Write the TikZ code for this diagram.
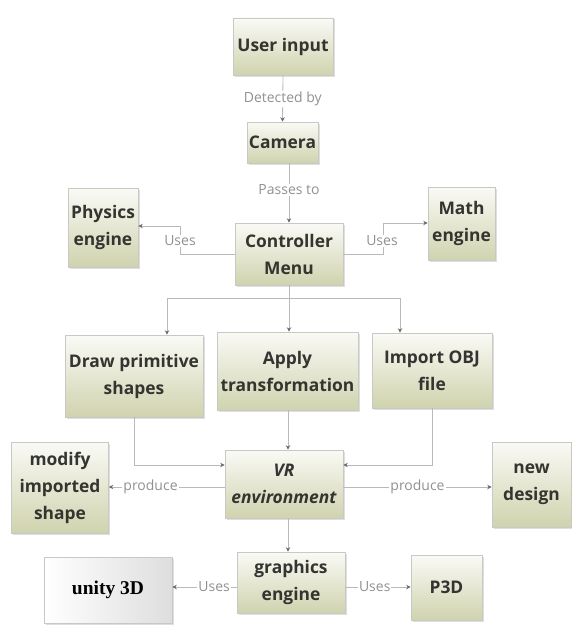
\documentclass[tikz,border=0pt]{standalone}
\usepackage{fontspec}
\setmainfont{Open Sans}
\newfontfamily\unityfont{Liberation Serif}
\usetikzlibrary{arrows.meta,shadows}
\definecolor{boxtop}{RGB}{250,250,246}
\definecolor{boxmid}{RGB}{238,239,226}
\definecolor{boxbot}{RGB}{208,211,174}
\definecolor{boxborder}{RGB}{200,200,196}
\definecolor{txtc}{RGB}{52,52,48}
\definecolor{linec}{RGB}{185,185,185}
\definecolor{arrowc}{RGB}{105,105,105}
\definecolor{lblc}{RGB}{145,145,145}
\tikzset{
  box/.style={draw=boxborder, line width=0.6pt, top color=boxtop, middle color=boxmid, bottom color=boxbot,
    text=txtc, font=\fontsize{17.4}{27}\selectfont\bfseries, align=center, inner sep=0pt,
    drop shadow={shadow xshift=1.5pt, shadow yshift=-1.5pt, opacity=0.25}},
  lbl/.style={fill=white, text=lblc, font=\fontsize{14}{16}\selectfont, inner sep=1pt},
  conn/.style={draw=linec, line width=0.8pt},
  arr/.style={conn, -{Stealth[length=4.5pt,width=4.5pt,color=arrowc]}},
}
\begin{document}
\begin{tikzpicture}[x=1pt,y=-1pt]
\useasboundingbox (0,0) rectangle (572,626);
% boxes
\node[box, minimum width=100pt, minimum height=57pt] (user) at (283,46.5) {User input};
\node[box, minimum width=71pt, minimum height=41pt] (cam) at (282.5,142.5) {Camera};
\node[box, minimum width=70pt, minimum height=79pt] (phys) at (103,227.5) {Physics\\engine};
\node[box, minimum width=108pt, minimum height=62pt] (ctrl) at (289,254) {Controller\\Menu};
\node[box, minimum width=67pt, minimum height=73pt] (math) at (461.5,223.5) {Math\\engine};
\node[box, minimum width=138pt, minimum height=82pt] (drawp) at (134,376) {Draw primitive\\shapes};
\node[box, minimum width=141pt, minimum height=78pt] (apply) at (287.5,371) {Apply\\transformation};
\node[box, minimum width=120pt, minimum height=75pt] (import) at (432,370.5) {Import OBJ\\file};
\node[box, minimum width=97pt, minimum height=91pt] (modify) at (60,487.5) {modify\\imported\\shape};
\node[box, minimum width=118pt, minimum height=68pt, font=\fontsize{17.4}{27}\selectfont\bfseries\itshape] (vr) at (284,484) {VR\\environment};
\node[box, minimum width=79pt, minimum height=85pt] (newd) at (531.5,484.5) {new\\design};
\node[box, minimum width=108pt, minimum height=61pt] (graph) at (291,582.5) {graphics\\engine};
\node[box, minimum width=128pt, minimum height=66pt, top color=white, middle color=white, bottom color=white,
  left color=white, right color=black!13, text=black, font=\fontsize{19.5}{22}\selectfont\unityfont\bfseries] (unity) at (108,590) {unity 3D};
\node[box, minimum width=71pt, minimum height=65pt] (p3d) at (446.5,587.5) {P3D};
% connectors
\draw[arr] (user.south) -- (cam.north) node[lbl, pos=0.5] {Detected by};
\draw[arr] (ctrl.north |- cam.south) -- (ctrl.north) node[lbl, pos=0.45] {Passes to};
\draw[arr] (ctrl.west) -- (180,254) -- (180,226) -- (phys.east |- 180,226);
\node[lbl] (u1) at (180,241) {Uses};
\draw[arr] (ctrl.east) -- (383,254) -- (383,223) -- (math.west |- 383,223);
\node[lbl] (u2) at (382,241) {Uses};
\coordinate (split) at (289,298);
\draw[conn] (ctrl.south) -- (split);
\draw[arr] (split) -- (167,298) -- (drawp.north -| 167,0);
\draw[arr] (split) -- (apply.north -| 289,0);
\draw[arr] (split) -- (400,298) -- (import.north -| 400,0);
\draw[arr] (drawp.south) |- (vr.west |- 0,465);
\draw[arr] (import.south) |- (vr.east |- 0,465);
\draw[arr] (apply.south -| 288,0) -- (vr.north -| 288,0);
\draw[arr] (vr.west |- 0,487) -- (modify.east |- 0,487) node[lbl, pos=0.64] {produce};
\draw[arr] (vr.east |- 0,487) -- (newd.west |- 0,487) node[lbl, pos=0.5] {produce};
\draw[arr] (vr.south -| 288,0) -- (graph.north -| 288,0);
\draw[arr] (graph.west |- 0,587) -- (unity.east |- 0,587) node[lbl, pos=0.35] {Uses};
\draw[arr] (graph.east |- 0,587) -- (p3d.west |- 0,587) node[lbl, pos=0.45] {Uses};
\end{tikzpicture}
\end{document}
